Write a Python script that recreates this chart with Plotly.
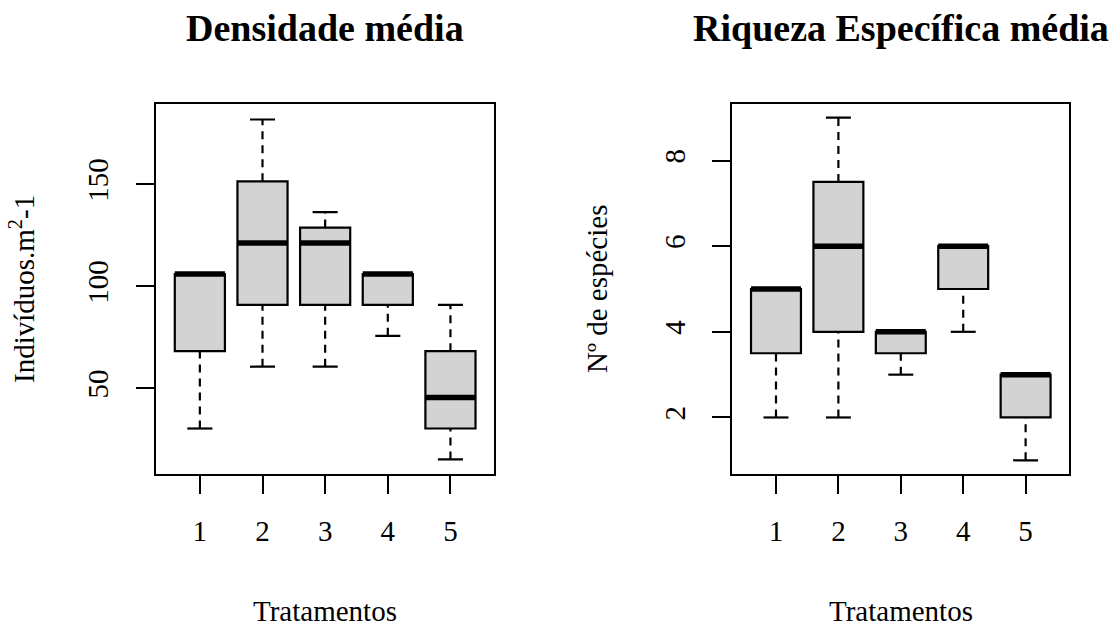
import plotly.graph_objects as go

# ---- data ----
tratamentos = ["1", "2", "3", "4", "5"]
pos = [1, 2, 3, 4, 5]

# Densidade média (Indivíduos.m2-1)
dens_min = [30.3, 60.6, 60.6, 75.75, 15.15]
dens_q1 = [68.2, 90.9, 90.9, 90.9, 30.3]
dens_med = [106.05, 121.2, 121.2, 106.05, 45.45]
dens_q3 = [106.05, 151.5, 128.8, 106.05, 68.2]
dens_max = [106.05, 181.8, 136.35, 106.05, 90.9]

# Riqueza específica média (Nº de espécies)
riq_min = [2, 2, 3, 4, 1]
riq_q1 = [3.5, 4, 3.5, 5, 2]
riq_med = [5, 6, 4, 6, 3]
riq_q3 = [5, 7.5, 4, 6, 3]
riq_max = [5, 9, 4, 6, 3]

FONT = "Liberation Serif"
BOXW = 0.8
STAPLE = 0.4

fig = go.Figure()


def add_panel(xa, ya, mn, q1, med, q3, mx):
    fig.add_trace(go.Box(
        x=pos, q1=q1, median=med, q3=q3, lowerfence=q1, upperfence=q3,
        width=BOXW, whiskerwidth=0, boxpoints=False,
        fillcolor="#D3D3D3", line=dict(color="black", width=2.2),
        xaxis=xa, yaxis=ya, showlegend=False, hoverinfo="skip"))
    # dashed whiskers
    wx, wy = [], []
    for p, a, b, c, d in zip(pos, mn, q1, q3, mx):
        if a < b:
            wx += [p, p, None]
            wy += [a, b, None]
        if d > c:
            wx += [p, p, None]
            wy += [c, d, None]
    fig.add_trace(go.Scatter(x=wx, y=wy, mode="lines",
                             line=dict(color="black", width=2.2, dash="8px,6px"),
                             xaxis=xa, yaxis=ya, showlegend=False, hoverinfo="skip"))
    # staples
    sx, sy = [], []
    for p, a, d in zip(pos, mn, mx):
        sx += [p - STAPLE / 2, p + STAPLE / 2, None, p - STAPLE / 2, p + STAPLE / 2, None]
        sy += [a, a, None, d, d, None]
    fig.add_trace(go.Scatter(x=sx, y=sy, mode="lines",
                             line=dict(color="black", width=2.2),
                             xaxis=xa, yaxis=ya, showlegend=False, hoverinfo="skip"))
    # thick medians
    mxs, mys = [], []
    for p, m in zip(pos, med):
        mxs += [p - BOXW / 2, p + BOXW / 2, None]
        mys += [m, m, None]
    fig.add_trace(go.Scatter(x=mxs, y=mys, mode="lines",
                             line=dict(color="black", width=5.5),
                             xaxis=xa, yaxis=ya, showlegend=False, hoverinfo="skip"))


add_panel("x", "y", dens_min, dens_q1, dens_med, dens_q3, dens_max)
add_panel("x2", "y2", riq_min, riq_q1, riq_med, riq_q3, riq_max)

W, H = 1112, 626
dom1 = [156 / W, 494.3 / W]
dom2 = [732.3 / W, 1069.3 / W]
ydom = [152 / H, 522 / H]

axis_common = dict(showgrid=False, zeroline=False, showline=True, mirror=True,
                   linecolor="black", linewidth=2, ticks="outside", ticklen=18,
                   tickwidth=2, tickcolor="black",
                   tickfont=dict(family=FONT, size=29, color="black"))

fig.update_layout(
    width=W, height=H, margin=dict(l=0, r=0, t=0, b=0),
    paper_bgcolor="white", plot_bgcolor="white",
    xaxis=dict(domain=dom1, anchor="y", range=[0.3, 5.7], tickvals=pos, ticktext=tratamentos,
               ticklabelstandoff=12, **axis_common),
    yaxis=dict(domain=ydom, anchor="x", range=[8.0, 189.4], tickvals=[50, 100, 150],
               tickangle=-90, ticklabelstandoff=16, **axis_common),
    xaxis2=dict(domain=dom2, anchor="y2", range=[0.3, 5.7], tickvals=pos, ticktext=tratamentos,
                ticklabelstandoff=12, **axis_common),
    yaxis2=dict(domain=ydom, anchor="x2", range=[0.68, 9.32], tickvals=[2, 4, 6, 8],
                tickangle=-90, ticklabelstandoff=16, **axis_common),
)

c1 = (dom1[0] + dom1[1]) / 2
c2 = (dom2[0] + dom2[1]) / 2
yc = (ydom[0] + ydom[1]) / 2
ann = [
    dict(text="<b>Densidade média</b>", x=c1, y=1 - 28 / H, size=38),
    dict(text="<b>Riqueza Específica média</b>", x=c2, y=1 - 28 / H, size=38),
    dict(text="Tratamentos", x=c1, y=1 - 611 / H, size=29),
    dict(text="Tratamentos", x=c2, y=1 - 611 / H, size=29),
]
for a in ann:
    fig.add_annotation(text=a["text"], x=a["x"], y=a["y"], xref="paper", yref="paper",
                       xanchor="center", yanchor="middle", showarrow=False,
                       font=dict(family=FONT, size=a["size"], color="black"))
for txt, xp in [("Indivíduos.m<sup>2</sup>-1", 22 / W), ("Nº de espécies", 597 / W)]:
    fig.add_annotation(text=txt, x=xp, y=yc, xref="paper", yref="paper",
                       xanchor="center", yanchor="middle", textangle=-90, showarrow=False,
                       font=dict(family=FONT, size=29, color="black"))

fig.write_html("out.html", config={"displayModeBar": False},
               post_script="document.body.style.margin='0';")
